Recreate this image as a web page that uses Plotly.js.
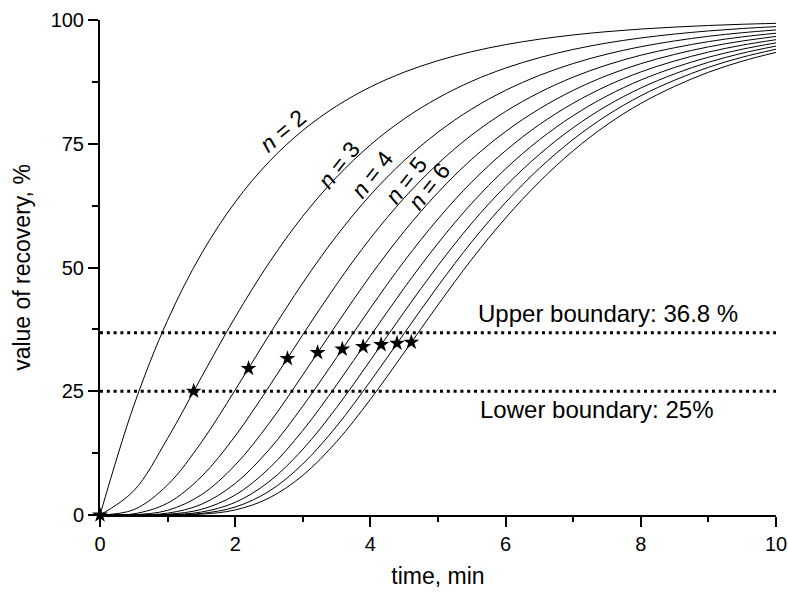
<!DOCTYPE html>
<html>
<head>
<meta charset="utf-8">
<script src="https://cdn.plot.ly/plotly-3.0.1.min.js"></script>
<style>html,body{margin:0;padding:0;background:#fff;}#chart{width:788px;height:595px;}</style>
</head>
<body>
<div id="chart"></div>
<script>
// time axis (min)
const time = [0,0.5,1,1.5,2,2.5,3,3.5,4,4.5,5,5.5,6,6.5,7,7.5,8,8.5,9,9.5,10];
// recovery curves (%)
const curve1  = [0,22.1,39.35,52.76,63.21,71.35,77.69,82.62,86.47,89.46,91.79,93.61,95.02,96.12,96.98,97.65,98.17,98.57,98.89,99.14,99.33];
const curve2  = [0,4.89,15.48,27.84,39.96,50.91,60.36,68.26,74.77,80.03,84.25,87.63,90.29,92.39,94.05,95.36,96.37,97.16,97.79,98.28,98.66];
const curve3  = [0,1.08,6.09,14.69,25.26,36.32,46.89,56.40,64.65,71.60,77.34,82.03,85.79,88.81,91.21,93.11,94.61,95.77,96.71,97.43,97.99];
const curve4  = [0,0.24,2.40,7.75,15.96,25.92,36.43,46.60,55.91,64.05,70.99,76.79,81.52,85.36,88.46,90.93,92.88,94.40,95.63,96.59,97.33];
const curve5  = [0,0.05,0.94,4.09,10.09,18.49,28.30,38.50,48.34,57.30,65.16,71.88,77.46,82.05,85.78,88.79,91.18,93.05,94.57,95.75,96.68];
const curve6  = [0,0.01,0.37,2.16,6.38,13.19,21.99,31.81,41.80,51.26,59.81,67.29,73.60,78.87,83.19,86.70,89.51,91.72,93.52,94.92,96.02];
const curve7  = [0,0,0.15,1.14,4.03,9.41,17.08,26.28,36.15,45.86,54.90,62.99,69.94,75.81,80.68,84.67,87.87,90.41,92.48,94.10,95.38];
const curve8  = [0,0,0.06,0.60,2.55,6.72,13.27,21.71,31.25,41.02,50.39,58.96,66.45,72.86,78.25,82.68,86.26,89.12,91.46,93.29,94.73];
const curve9  = [0,0,0.02,0.32,1.61,4.79,10.31,17.94,27.03,36.70,46.26,55.20,63.14,70.04,75.88,80.73,84.69,87.84,90.44,92.48,94.10];
const curve10 = [0,0,0.01,0.17,1.02,3.42,8.01,14.82,23.37,32.83,42.46,51.67,60.00,67.32,73.59,78.84,83.14,86.59,89.44,91.68,93.46];
// inflection-point markers (stars)
const starX = [0,1.386,2.197,2.773,3.219,3.584,3.892,4.159,4.394,4.605];
const starY = [0,25.0,29.6,31.6,32.8,33.5,34.0,34.4,34.7,34.9];
// boundaries
const boundaryY = [36.8, 25];
const boundaryLabels = ["Upper boundary: 36.8 %", "Lower boundary: 25%"];
// curve labels
const nLabels = ["<i>n</i> = 2","<i>n</i> = 3","<i>n</i> = 4","<i>n</i> = 5","<i>n</i> = 6"];
const nLabelX = [2.70, 3.53, 4.03, 4.53, 4.87];
const nLabelY = [77.6, 70.7, 68.9, 67.7, 66.5];
const nLabelAngle = [-40, -52, -52, -52, -52];
const xTicks = [0,2,4,6,8,10];
const yTicks = [0,25,50,75,100];

const FONT = "Liberation Sans, Arial, sans-serif";
const curves = [curve1,curve2,curve3,curve4,curve5,curve6,curve7,curve8,curve9,curve10];
const traces = curves.map((c,i)=>({
  x: time, y: c, type:'scatter', mode:'lines',
  line:{color:'#000', width:1, shape:'spline', smoothing:1},
  hoverinfo:'skip', showlegend:false
}));
boundaryY.forEach(b=>{
  traces.push({x:[0,10], y:[b,b], type:'scatter', mode:'lines',
    line:{color:'#000', width:3, dash:'3px,3.8px'}, showlegend:false, hoverinfo:'skip'});
});
traces.push({x:starX, y:starY, type:'scatter', mode:'markers',
  marker:{symbol:'star', size:12, color:'#000'}, cliponaxis:false, showlegend:false});

const annotations = nLabels.map((t,i)=>({
  x:nLabelX[i], y:nLabelY[i], xref:'x', yref:'y', text:t, showarrow:false,
  textangle:nLabelAngle[i], font:{family:FONT, size:23, color:'#000'}
}));
annotations.push({x:7.52, y:40.8, xref:'x', yref:'y', text:boundaryLabels[0], showarrow:false,
  font:{family:FONT, size:24, color:'#000'}});
annotations.push({x:7.35, y:21.4, xref:'x', yref:'y', text:boundaryLabels[1], showarrow:false,
  font:{family:FONT, size:24, color:'#000'}});

const layout = {
  width:788, height:595,
  margin:{l:99.5, r:12, t:20, b:80},
  paper_bgcolor:'#fff', plot_bgcolor:'#fff',
  font:{family:FONT, color:'#000'},
  xaxis:{
    range:[0,10], tickvals:xTicks, ticktext:xTicks.map(String),
    showline:true, linecolor:'#000', linewidth:2, mirror:false,
    ticks:'outside', ticklen:10, tickwidth:2, tickcolor:'#000',
    minor:{dtick:1, ticks:'outside', ticklen:5, tickwidth:2, tickcolor:'#000', showgrid:false},
    showgrid:false, zeroline:false,
    tickfont:{family:FONT, size:20, color:'#000'},
    title:{text:'time, min', font:{family:FONT, size:23, color:'#000'}, standoff:14},
    automargin:false
  },
  yaxis:{
    range:[0,100], tickvals:yTicks, ticktext:yTicks.map(String),
    showline:true, linecolor:'#000', linewidth:2, mirror:false,
    ticks:'outside', ticklen:10, tickwidth:2, tickcolor:'#000',
    minor:{dtick:12.5, ticks:'outside', ticklen:6, tickwidth:2, tickcolor:'#000', showgrid:false},
    showgrid:false, zeroline:false,
    tickfont:{family:FONT, size:20, color:'#000'},
    title:{text:'value of recovery, %', font:{family:FONT, size:23, color:'#000'}, standoff:14},
    automargin:false
  },
  annotations: annotations,
  showlegend:false
};
Plotly.newPlot('chart', traces, layout, {staticPlot:true, displayModeBar:false});
</script>
</body>
</html>
